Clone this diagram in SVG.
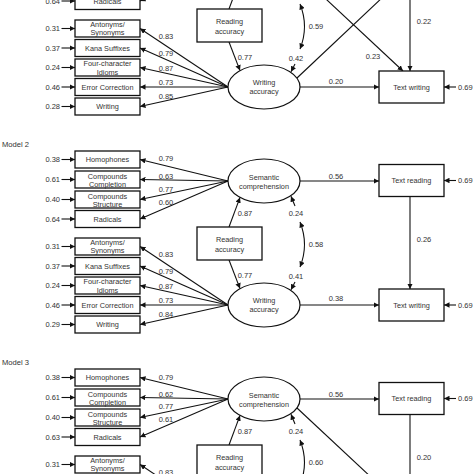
<svg xmlns="http://www.w3.org/2000/svg" width="474" height="474" viewBox="0 0 474 474">
<defs>
<marker id="ah" viewBox="0 0 6 6" refX="6" refY="3" markerWidth="5.5" markerHeight="5.5" markerUnits="userSpaceOnUse" orient="auto-start-reverse">
<path d="M0,0 L6,3 L0,6 z" fill="#111"/>
</marker>
</defs>
<style>
.box{fill:#fff;stroke:#111;stroke-width:1.3}
.ell{fill:#fff;stroke:#111;stroke-width:1.2}
.c line,.c path{stroke:#111;stroke-width:1.1;fill:none}
.a{marker-end:url(#ah)}
.d{marker-start:url(#ah);marker-end:url(#ah)}
text{font-family:"Liberation Sans",Arial,sans-serif;fill:#333}
.t{font-size:7.3px;text-anchor:middle}
.n{font-size:7.5px}
.m{text-anchor:middle}
.e{text-anchor:end}
.title{font-size:7.6px}
</style>
<rect width="474" height="474" fill="#fff"/>

<!-- ================= MODEL 1 (shifted up) ================= -->
<g id="model1" transform="translate(0,-218)">
<g class="c" id="m1-connectors">
<line class="a" x1="228" y1="181" x2="140" y2="219"/>
<line class="a" x1="228" y1="305" x2="140" y2="246.5"/>
<line class="a" x1="228" y1="305" x2="140" y2="266"/>
<line class="a" x1="228" y1="305" x2="140" y2="285.5"/>
<line class="a" x1="228" y1="305" x2="140" y2="305"/>
<line class="a" x1="228" y1="305" x2="140" y2="324.5"/>
<line class="a" x1="61.5" y1="219" x2="75" y2="219"/>
<line class="a" x1="61.5" y1="246.5" x2="75" y2="246.5"/>
<line class="a" x1="61.5" y1="266" x2="75" y2="266"/>
<line class="a" x1="61.5" y1="285.5" x2="75" y2="285.5"/>
<line class="a" x1="61.5" y1="305" x2="75" y2="305"/>
<line class="a" x1="61.5" y1="324.5" x2="75" y2="324.5"/>
<line class="a" x1="229" y1="227" x2="240" y2="197.4"/>
<line class="a" x1="229" y1="260" x2="240" y2="288.6"/>
<line class="a" x1="295" y1="282" x2="291" y2="289.8"/>
<path class="d" d="M300,222 Q309,244.5 300,267"/>
<line class="a" x1="300" y1="305" x2="379" y2="305"/>
<line class="a" x1="410" y1="196.5" x2="410" y2="289"/>
<line class="a" x1="297" y1="296" x2="402" y2="197"/>
<line class="a" x1="297" y1="190" x2="403" y2="289"/>
<line class="a" x1="456" y1="305" x2="444" y2="305"/>
</g>
<g id="m1-labels">
<text class="n e" x="60" y="221.7">0.64</text>
<text class="n e" x="60" y="249.2">0.31</text>
<text class="n e" x="60" y="268.7">0.37</text>
<text class="n e" x="60" y="288.2">0.24</text>
<text class="n e" x="60" y="307.7">0.46</text>
<text class="n e" x="60" y="327.2">0.28</text>
<text class="n m" x="166" y="256.7">0.83</text>
<text class="n m" x="166" y="273.7">0.79</text>
<text class="n m" x="166" y="288.7">0.87</text>
<text class="n m" x="166" y="302.7">0.73</text>
<text class="n m" x="166" y="316.7">0.85</text>
<text class="n m" x="245" y="277.7">0.77</text>
<text class="n m" x="296" y="278.7">0.42</text>
<text class="n m" x="316" y="246.7">0.59</text>
<text class="n m" x="424" y="241.7">0.22</text>
<text class="n m" x="373" y="276.7">0.23</text>
<text class="n m" x="336" y="301.7">0.20</text>
<text class="n" x="458" y="307.7">0.69</text>
</g>
<g id="m1-radicals"><rect class="box" x="75" y="210.5" width="65" height="17"/><text class="t" x="107.5" y="221.7">Radicals</text></g>
<g id="m1-antonyms"><rect class="box" x="75" y="238" width="65" height="17"/><text class="t" x="107.5" y="244.5">Antonyms/</text><text class="t" x="107.5" y="253">Synonyms</text></g>
<g id="m1-kana"><rect class="box" x="75" y="257.5" width="65" height="17"/><text class="t" x="107.5" y="268.7">Kana Suffixes</text></g>
<g id="m1-four"><rect class="box" x="75" y="277" width="65" height="17"/><text class="t" x="107.5" y="284">Four-character</text><text class="t" x="107.5" y="292.5">Idioms</text></g>
<g id="m1-error"><rect class="box" x="75" y="296.5" width="65" height="17"/><text class="t" x="107.5" y="307.7">Error Correction</text></g>
<g id="m1-writing"><rect class="box" x="75" y="316" width="65" height="17"/><text class="t" x="107.5" y="327.2">Writing</text></g>
<g id="m1-reading-acc"><rect class="box" x="197" y="227" width="65" height="33"/><text class="t" x="229.5" y="241.7">Reading</text><text class="t" x="229.5" y="251.7">accuracy</text></g>
<g id="m1-writing-acc"><ellipse class="ell" cx="264" cy="305" rx="36" ry="22"/><text class="t" x="264" y="303">Writing</text><text class="t" x="264" y="312">accuracy</text></g>
<g id="m1-text-writing"><rect class="box" x="379" y="289" width="65" height="32"/><text class="t" x="411.5" y="307.7">Text writing</text></g>
</g>

<!-- ================= MODEL 2 ================= -->
<g id="model2">
<text class="title" x="2" y="147">Model 2</text>
<g class="c" id="m2-connectors">
<line class="a" x1="228" y1="181" x2="140" y2="159.5"/>
<line class="a" x1="228" y1="181" x2="140" y2="179.5"/>
<line class="a" x1="228" y1="181" x2="140" y2="199.5"/>
<line class="a" x1="228" y1="181" x2="140" y2="219"/>
<line class="a" x1="228" y1="305" x2="140" y2="246.5"/>
<line class="a" x1="228" y1="305" x2="140" y2="266"/>
<line class="a" x1="228" y1="305" x2="140" y2="285.5"/>
<line class="a" x1="228" y1="305" x2="140" y2="305"/>
<line class="a" x1="228" y1="305" x2="140" y2="324.5"/>
<line class="a" x1="61.5" y1="159.5" x2="75" y2="159.5"/>
<line class="a" x1="61.5" y1="179.5" x2="75" y2="179.5"/>
<line class="a" x1="61.5" y1="199.5" x2="75" y2="199.5"/>
<line class="a" x1="61.5" y1="219" x2="75" y2="219"/>
<line class="a" x1="61.5" y1="246.5" x2="75" y2="246.5"/>
<line class="a" x1="61.5" y1="266" x2="75" y2="266"/>
<line class="a" x1="61.5" y1="285.5" x2="75" y2="285.5"/>
<line class="a" x1="61.5" y1="305" x2="75" y2="305"/>
<line class="a" x1="61.5" y1="324.5" x2="75" y2="324.5"/>
<line class="a" x1="229" y1="227" x2="240" y2="197.4"/>
<line class="a" x1="229" y1="260" x2="240" y2="288.6"/>
<line class="a" x1="295" y1="206" x2="291" y2="196.2"/>
<line class="a" x1="295" y1="282" x2="291" y2="289.8"/>
<path class="d" d="M300,222 Q309,244.5 300,267"/>
<line class="a" x1="300" y1="181" x2="379" y2="181"/>
<line class="a" x1="300" y1="305" x2="379" y2="305"/>
<line class="a" x1="410" y1="196.5" x2="410" y2="289"/>
<line class="a" x1="456" y1="180.5" x2="444" y2="180.5"/>
<line class="a" x1="456" y1="305" x2="444" y2="305"/>
</g>
<g id="m2-labels">
<text class="n e" x="60" y="162.2">0.38</text>
<text class="n e" x="60" y="182.2">0.61</text>
<text class="n e" x="60" y="202.2">0.40</text>
<text class="n e" x="60" y="221.7">0.64</text>
<text class="n e" x="60" y="249.2">0.31</text>
<text class="n e" x="60" y="268.7">0.37</text>
<text class="n e" x="60" y="288.2">0.24</text>
<text class="n e" x="60" y="307.7">0.46</text>
<text class="n e" x="60" y="327.2">0.29</text>
<text class="n m" x="166" y="160.7">0.79</text>
<text class="n m" x="166" y="178.7">0.63</text>
<text class="n m" x="166" y="191.7">0.77</text>
<text class="n m" x="166" y="204.7">0.60</text>
<text class="n m" x="166" y="256.7">0.83</text>
<text class="n m" x="166" y="273.7">0.79</text>
<text class="n m" x="166" y="288.7">0.87</text>
<text class="n m" x="166" y="302.7">0.73</text>
<text class="n m" x="166" y="316.7">0.84</text>
<text class="n m" x="245" y="215.7">0.87</text>
<text class="n m" x="245" y="277.7">0.77</text>
<text class="n m" x="296" y="215.7">0.24</text>
<text class="n m" x="296" y="278.7">0.41</text>
<text class="n m" x="316" y="246.7">0.58</text>
<text class="n m" x="336" y="178.7">0.56</text>
<text class="n m" x="336" y="300.7">0.38</text>
<text class="n m" x="424" y="241.7">0.26</text>
<text class="n" x="458" y="183.2">0.69</text>
<text class="n" x="458" y="307.7">0.69</text>
</g>
<g id="m2-homophones"><rect class="box" x="75" y="151" width="65" height="17"/><text class="t" x="107.5" y="162.2">Homophones</text></g>
<g id="m2-comp-completion"><rect class="box" x="75" y="171" width="65" height="17"/><text class="t" x="107.5" y="178.5">Compounds</text><text class="t" x="107.5" y="187">Completion</text></g>
<g id="m2-comp-structure"><rect class="box" x="75" y="191" width="65" height="17"/><text class="t" x="107.5" y="198.5">Compounds</text><text class="t" x="107.5" y="207">Structure</text></g>
<g id="m2-radicals"><rect class="box" x="75" y="210.5" width="65" height="17"/><text class="t" x="107.5" y="221.7">Radicals</text></g>
<g id="m2-antonyms"><rect class="box" x="75" y="238" width="65" height="17"/><text class="t" x="107.5" y="244.5">Antonyms/</text><text class="t" x="107.5" y="253">Synonyms</text></g>
<g id="m2-kana"><rect class="box" x="75" y="257.5" width="65" height="17"/><text class="t" x="107.5" y="268.7">Kana Suffixes</text></g>
<g id="m2-four"><rect class="box" x="75" y="277" width="65" height="17"/><text class="t" x="107.5" y="284">Four-character</text><text class="t" x="107.5" y="292.5">Idioms</text></g>
<g id="m2-error"><rect class="box" x="75" y="296.5" width="65" height="17"/><text class="t" x="107.5" y="307.7">Error Correction</text></g>
<g id="m2-writing"><rect class="box" x="75" y="316" width="65" height="17"/><text class="t" x="107.5" y="327.2">Writing</text></g>
<g id="m2-semantic"><ellipse class="ell" cx="264" cy="181" rx="36" ry="22"/><text class="t" x="264" y="179.7">Semantic</text><text class="t" x="264" y="188.7">comprehension</text></g>
<g id="m2-reading-acc"><rect class="box" x="197" y="227" width="65" height="33"/><text class="t" x="229.5" y="241.7">Reading</text><text class="t" x="229.5" y="251.7">accuracy</text></g>
<g id="m2-writing-acc"><ellipse class="ell" cx="264" cy="305" rx="36" ry="22"/><text class="t" x="264" y="303">Writing</text><text class="t" x="264" y="312">accuracy</text></g>
<g id="m2-text-reading"><rect class="box" x="379" y="164.5" width="65" height="32"/><text class="t" x="411.5" y="183.2">Text reading</text></g>
<g id="m2-text-writing"><rect class="box" x="379" y="289" width="65" height="32"/><text class="t" x="411.5" y="307.7">Text writing</text></g>
</g>

<!-- ================= MODEL 3 (shifted down) ================= -->
<g id="model3" transform="translate(0,218)">
<text class="title" x="2" y="147">Model 3</text>
<g class="c" id="m3-connectors">
<line class="a" x1="228" y1="181" x2="140" y2="159.5"/>
<line class="a" x1="228" y1="181" x2="140" y2="179.5"/>
<line class="a" x1="228" y1="181" x2="140" y2="199.5"/>
<line class="a" x1="228" y1="181" x2="140" y2="219"/>
<line class="a" x1="228" y1="305" x2="140" y2="246.5"/>
<line class="a" x1="61.5" y1="159.5" x2="75" y2="159.5"/>
<line class="a" x1="61.5" y1="179.5" x2="75" y2="179.5"/>
<line class="a" x1="61.5" y1="199.5" x2="75" y2="199.5"/>
<line class="a" x1="61.5" y1="219" x2="75" y2="219"/>
<line class="a" x1="61.5" y1="246.5" x2="75" y2="246.5"/>
<line class="a" x1="229" y1="227" x2="240" y2="197.4"/>
<line class="a" x1="295" y1="206" x2="291" y2="196.2"/>
<path class="d" d="M300,222 Q309,244.5 300,267"/>
<line class="a" x1="300" y1="181" x2="379" y2="181"/>
<line class="a" x1="410" y1="196.5" x2="410" y2="289"/>
<line class="a" x1="297" y1="190" x2="403" y2="289"/>
<line class="a" x1="456" y1="180.5" x2="444" y2="180.5"/>
</g>
<g id="m3-labels">
<text class="n e" x="60" y="162.2">0.38</text>
<text class="n e" x="60" y="182.2">0.61</text>
<text class="n e" x="60" y="202.2">0.40</text>
<text class="n e" x="60" y="221.7">0.63</text>
<text class="n e" x="60" y="249.2">0.31</text>
<text class="n m" x="166" y="161.7">0.79</text>
<text class="n m" x="166" y="178.7">0.62</text>
<text class="n m" x="166" y="190.7">0.77</text>
<text class="n m" x="166" y="203.7">0.61</text>
<text class="n m" x="166" y="256.7">0.83</text>
<text class="n m" x="245" y="215.7">0.87</text>
<text class="n m" x="296" y="215.7">0.24</text>
<text class="n m" x="316" y="246.7">0.60</text>
<text class="n m" x="336" y="178.7">0.56</text>
<text class="n m" x="424" y="241.7">0.20</text>
<text class="n" x="458" y="183.2">0.69</text>
</g>
<g id="m3-homophones"><rect class="box" x="75" y="151" width="65" height="17"/><text class="t" x="107.5" y="162.2">Homophones</text></g>
<g id="m3-comp-completion"><rect class="box" x="75" y="171" width="65" height="17"/><text class="t" x="107.5" y="178.5">Compounds</text><text class="t" x="107.5" y="187">Completion</text></g>
<g id="m3-comp-structure"><rect class="box" x="75" y="191" width="65" height="17"/><text class="t" x="107.5" y="198.5">Compounds</text><text class="t" x="107.5" y="207">Structure</text></g>
<g id="m3-radicals"><rect class="box" x="75" y="210.5" width="65" height="17"/><text class="t" x="107.5" y="221.7">Radicals</text></g>
<g id="m3-antonyms"><rect class="box" x="75" y="238" width="65" height="17"/><text class="t" x="107.5" y="244.5">Antonyms/</text><text class="t" x="107.5" y="253">Synonyms</text></g>
<g id="m3-semantic"><ellipse class="ell" cx="264" cy="181" rx="36" ry="22"/><text class="t" x="264" y="179.7">Semantic</text><text class="t" x="264" y="188.7">comprehension</text></g>
<g id="m3-reading-acc"><rect class="box" x="197" y="227" width="65" height="33"/><text class="t" x="229.5" y="241.7">Reading</text><text class="t" x="229.5" y="251.7">accuracy</text></g>
<g id="m3-text-reading"><rect class="box" x="379" y="164.5" width="65" height="32"/><text class="t" x="411.5" y="183.2">Text reading</text></g>
</g>
</svg>
